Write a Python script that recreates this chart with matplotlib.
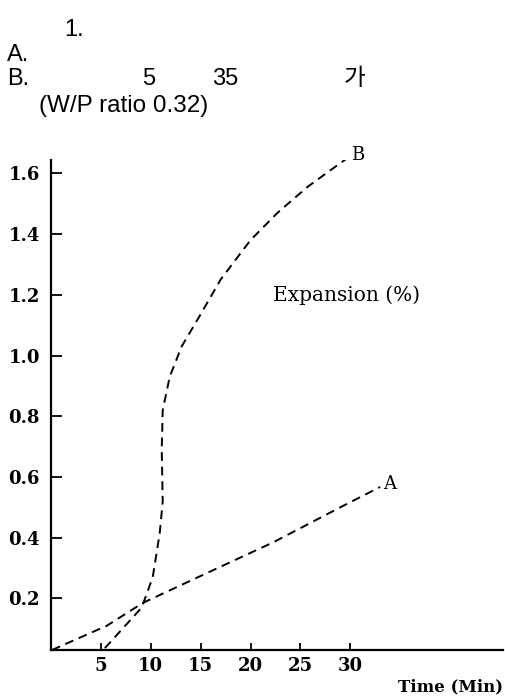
import matplotlib
matplotlib.use("Agg")
import matplotlib.pyplot as plt

# values (time in min, expansion in %)
time_a = [0.1, 5.6, 9.2, 15.6, 22.3, 29.0, 33.0]
exp_a = [0.03, 0.11, 0.185, 0.283, 0.385, 0.50, 0.567]

time_b = [5.4, 9.1, 10.2, 10.9, 11.2, 11.1, 11.2, 11.9, 13.1, 14.9,
          17.0, 20.0, 22.7, 25.7, 28.0, 29.7]
exp_b = [0.036, 0.17, 0.27, 0.415, 0.52, 0.69, 0.82, 0.93, 1.03, 1.13,
         1.25, 1.38, 1.47, 1.555, 1.61, 1.65]

xticks = [5, 10, 15, 20, 25, 30]
yticks = [0.2, 0.4, 0.6, 0.8, 1.0, 1.2, 1.4, 1.6]

serif = "DejaVu Serif"
sans = ["Liberation Sans", "Noto Sans CJK KR"]

fig = plt.figure(figsize=(5.06, 6.99), dpi=100)
ax = fig.add_axes([0.1008, 0.0701, 0.893, 0.701])

dash = (0, (4.5, 3))
ax.plot(time_a, exp_a, color="black", lw=1.4, linestyle=dash)
ax.plot(time_b, exp_b, color="black", lw=1.4, linestyle=dash)

ax.text(time_a[-1] + 0.3, exp_a[-1] + 0.01, "A", family=serif, fontsize=13, ha="left", va="center")
ax.text(time_b[-1] + 0.4, exp_b[-1] + 0.01, "B", family=serif, fontsize=13, ha="left", va="center")
ax.text(22.3, 1.2, "Expansion (%)", family=serif, fontsize=14.5, ha="left", va="center")

ax.set_xlim(0, 45.3)
ax.set_ylim(0.03, 1.644)
ax.set_xticks(xticks)
ax.set_xticklabels([str(t) for t in xticks], family=serif, fontsize=13, fontweight="bold")
ax.set_yticks(yticks)
ax.set_yticklabels([f"{t:.1f}" for t in yticks], family=serif, fontsize=13, fontweight="bold")
ax.tick_params(axis="y", direction="in", length=8, width=1.3, pad=8)
ax.tick_params(axis="x", direction="in", length=5, width=1.3, pad=5)

for s in ["top", "right"]:
    ax.spines[s].set_visible(False)
for s in ["left", "bottom"]:
    ax.spines[s].set_linewidth(1.6)

fig.text(0.995, 0.017, "Time (Min)", family=serif, fontsize=12, fontweight="bold", ha="right", va="center")

# header lines (Korean text of the scan mostly lost)
fig.text(64 / 506, 1 - 30 / 699, "1.", family=sans, fontsize=17, va="center")
fig.text(7 / 506, 1 - 55 / 699, "A.", family=sans, fontsize=17, va="center")
fig.text(7 / 506, 1 - 79 / 699, "B.", family=sans, fontsize=17, va="center")
fig.text(142 / 506, 1 - 79 / 699, "5", family=sans, fontsize=17, va="center")
fig.text(212 / 506, 1 - 79 / 699, "35", family=sans, fontsize=17, va="center")
fig.text(344 / 506, 1 - 79 / 699, "가", family=sans, fontsize=17, va="center")
fig.text(39 / 506, 1 - 106 / 699, "(W/P ratio 0.32)", family=sans, fontsize=17.5, va="center")

fig.savefig("out.png", dpi=100)
